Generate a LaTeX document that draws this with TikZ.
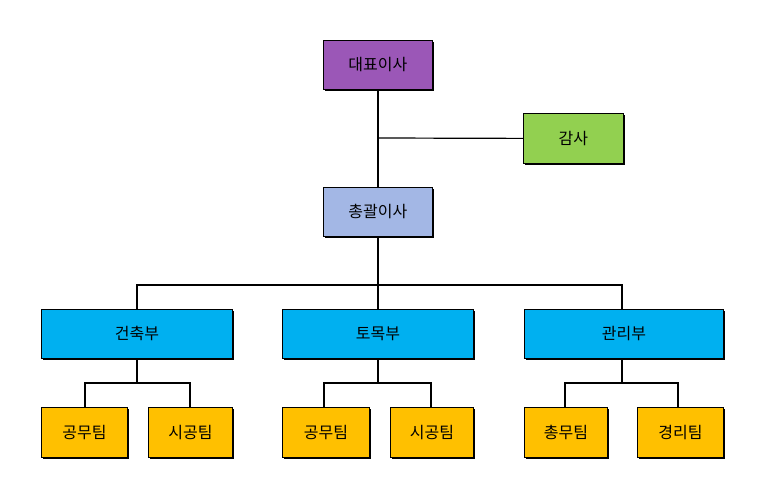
\documentclass[tikz,border=0pt]{standalone}
\usepackage{fontspec}
\setmainfont{Noto Sans CJK KR}
\usetikzlibrary{shadows}
\begin{document}
\begin{tikzpicture}[x=1pt,y=-1pt,
  box/.style={draw=black, line width=0.8pt, inner sep=0pt, anchor=north west,
    font=\fontsize{16}{18}\selectfont,
    drop shadow={shadow xshift=1.2pt, shadow yshift=-1.2pt, opacity=1, fill=black}},
  link/.style={line width=1.2pt},
  spine/.style={line width=2.2pt}]
\useasboundingbox (0,0) rectangle (768,502);
\fill[white] (0,0) rectangle (768,502);
\definecolor{cpurple}{HTML}{9B57B7}
\definecolor{cgreen}{HTML}{92D050}
\definecolor{clblue}{HTML}{A3B7E5}
\definecolor{cblue}{HTML}{00B0F0}
\definecolor{corange}{HTML}{FFC000}
% top
\node[box, fill=cpurple, minimum width=109pt, minimum height=49pt] (ceo) at (323,40) {대표이사};
\node[box, fill=cgreen, minimum width=100pt, minimum height=50pt] (audit) at (523,113) {감사};
\node[box, fill=clblue, minimum width=109pt, minimum height=49pt] (gm) at (323,187) {총괄이사};
% departments
\node[box, fill=cblue, minimum width=191pt, minimum height=49pt] (d1) at (41,309) {건축부};
\node[box, fill=cblue, minimum width=191pt, minimum height=49pt] (d2) at (282,309) {토목부};
\node[box, fill=cblue, minimum width=199pt, minimum height=49pt] (d3) at (524,309) {관리부};
% teams
\node[box, fill=corange, minimum width=86pt, minimum height=50pt] (t11) at (41,407) {공무팀};
\node[box, fill=corange, minimum width=84pt, minimum height=50pt] (t12) at (148,407) {시공팀};
\node[box, fill=corange, minimum width=87pt, minimum height=50pt] (t21) at (282,407) {공무팀};
\node[box, fill=corange, minimum width=83pt, minimum height=50pt] (t22) at (390,407) {시공팀};
\node[box, fill=corange, minimum width=83pt, minimum height=50pt] (t31) at (524,407) {총무팀};
\node[box, fill=corange, minimum width=86pt, minimum height=50pt] (t32) at (637,407) {경리팀};
% connectors
\coordinate (j0) at (378,138);
\draw[spine] (ceo.south) -- (gm.north);
\draw[link] (j0) -- (audit.west);
\coordinate (hb) at (0,285);
\draw[spine] (gm.south) -- (gm.south |- hb);
\draw[link] (d1.north -| 137,0) |- (gm.south |- hb);
\draw[link] (d3.north -| 622,0) |- (gm.south |- hb);
\draw[link] (d2.north) -- (gm.south |- hb);
\draw[link] (d1.south -| 137,0) -- (137,383);
\draw[link] (t11.north -| 85,0) |- (190,383) -- (t12.north -| 190,0);
\draw[link] (d2.south -| 378,0) -- (378,383);
\draw[link] (t21.north -| 324,0) |- (431,383) -- (t22.north -| 431,0);
\draw[link] (d3.south -| 622,0) -- (622,383);
\draw[link] (t31.north -| 565,0) |- (678,383) -- (t32.north -| 678,0);
\end{tikzpicture}
\end{document}
